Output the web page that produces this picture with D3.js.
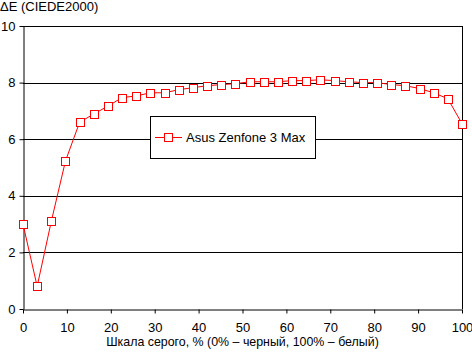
<!DOCTYPE html>
<html><head><meta charset="utf-8">
<script src="https://cdn.jsdelivr.net/npm/d3@7"></script>
<style>
body{margin:0;background:#fff;}
svg{display:block;font-family:"Liberation Sans",Arial,sans-serif;}
</style></head>
<body><svg id="c" width="472" height="352"></svg>
<script>
const seriesName = "Asus Zenfone 3 Max";
const grayLevels = d3.range(32).map(i => i * 100 / 31);
const deltaE = [3.0, 0.8, 3.1, 5.23, 6.6, 6.89, 7.17, 7.47, 7.53, 7.64, 7.64, 7.75, 7.82, 7.89, 7.93, 7.96,
  8.03, 8.03, 8.03, 8.07, 8.07, 8.1, 8.07, 8.03, 8.0, 8.0, 7.93, 7.89, 7.79, 7.64, 7.43, 6.55];
const xTicks = [0,10,20,30,40,50,60,70,80,90,100];
const yTicks = [0,2,4,6,8,10];
const yTitle = "ΔE (CIEDE2000)";
const xTitle = "Шкала серого, % (0% – черный, 100% – белый)";

const svg = d3.select("#c");
const L = 23, R = 462, T = 26, B = 309;
const x = d3.scaleLinear().domain([0,100]).range([L,R]);
const y = d3.scaleLinear().domain([0,10]).range([B,T]);

// grid
svg.append("g").selectAll("line").data(yTicks.filter(d=>d>0)).join("line")
  .attr("x1",L).attr("x2",R).attr("y1",d=>Math.round(y(d))+0.5).attr("y2",d=>Math.round(y(d))+0.5)
  .attr("stroke","#000").attr("stroke-width",1);
// right border
svg.append("line").attr("x1",R+0.5).attr("x2",R+0.5).attr("y1",T).attr("y2",B).attr("stroke","#000");

const xAxis = svg.append("g").attr("transform",`translate(0,${B+0.5})`)
  .call(d3.axisBottom(x).tickValues(xTicks).tickSize(4).tickPadding(9).tickSizeOuter(0));
const yAxis = svg.append("g").attr("transform",`translate(${L+0.5},0)`)
  .call(d3.axisLeft(y).tickValues(yTicks).tickSize(4).tickPadding(4).tickSizeOuter(0));
[xAxis,yAxis].forEach(g=>{
  g.selectAll("text").attr("font-size",13).attr("font-family","Liberation Sans, Arial, sans-serif").attr("fill","#000");
  g.selectAll("line,path").attr("stroke","#000");
});

// line
const data = grayLevels.map((g,i)=>({g, v: deltaE[i]}));
svg.append("path").datum(data)
  .attr("d", d3.line().x(d=>x(d.g)).y(d=>y(d.v)))
  .attr("fill","none").attr("stroke","#ff0000").attr("stroke-width",1);
svg.append("g").selectAll("rect").data(data).join("rect")
  .attr("x",d=>Math.round(x(d.g))-3.5).attr("y",d=>Math.round(y(d.v))-3.5)
  .attr("width",8).attr("height",8).attr("fill","#fff").attr("stroke","#ff0000").attr("stroke-width",1);

// legend
const lg = svg.append("g");
lg.append("rect").attr("x",150.5).attr("y",116.5).attr("width",165).attr("height",42)
  .attr("fill","#fff").attr("stroke","#000");
lg.append("line").attr("x1",155).attr("x2",182).attr("y1",137.5).attr("y2",137.5).attr("stroke","#ff0000");
lg.append("rect").attr("x",164.5).attr("y",133.5).attr("width",8).attr("height",8).attr("fill","#fff").attr("stroke","#ff0000");
lg.append("text").attr("x",186).attr("y",142).attr("font-size",13).text(seriesName);

// titles
svg.append("text").attr("x",0).attr("y",11).attr("font-size",13).text(yTitle);
svg.append("text").attr("x",(L+R)/2).attr("y",346).attr("text-anchor","middle").attr("font-size",12.4).text(xTitle);
</script></body></html>
